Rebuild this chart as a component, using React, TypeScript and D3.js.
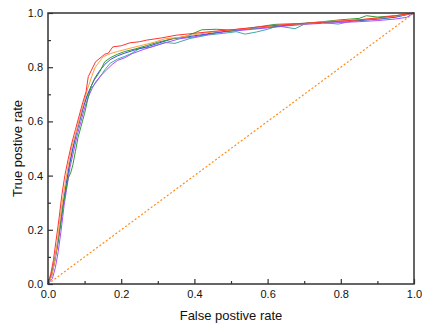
import React, { useRef, useEffect } from "react";
import * as d3 from "d3";

// ROC curves, [false positive rate, true positive rate]
const redCurve: [number, number][] = [
  [0, 0], [0.008, 0.04], [0.015, 0.09], [0.022, 0.16], [0.03, 0.24], [0.038, 0.33], [0.046, 0.4],
  [0.055, 0.46], [0.065, 0.52], [0.075, 0.57], [0.085, 0.62], [0.095, 0.67], [0.104, 0.71],
  [0.11, 0.765], [0.13, 0.82], [0.155, 0.848], [0.165, 0.852], [0.177, 0.875], [0.2, 0.879],
  [0.224, 0.89], [0.25, 0.894], [0.27, 0.9], [0.31, 0.908], [0.35, 0.918], [0.4, 0.925],
  [0.45, 0.932], [0.5, 0.938], [0.55, 0.945], [0.6, 0.952], [0.65, 0.957], [0.7, 0.962],
  [0.75, 0.966], [0.8, 0.97], [0.85, 0.975], [0.9, 0.982], [0.95, 0.99], [1, 1],
];
const orangeCurve: [number, number][] = [
  [0, 0], [0.01, 0.03], [0.018, 0.08], [0.025, 0.15], [0.032, 0.23], [0.04, 0.31], [0.048, 0.38],
  [0.057, 0.45], [0.066, 0.51], [0.077, 0.56], [0.088, 0.62], [0.098, 0.67], [0.108, 0.72],
  [0.118, 0.76], [0.128, 0.797], [0.14, 0.82], [0.151, 0.839], [0.17, 0.85], [0.19, 0.858],
  [0.21, 0.865], [0.23, 0.872], [0.26, 0.882], [0.29, 0.892], [0.32, 0.905], [0.36, 0.91],
  [0.4, 0.92], [0.44, 0.928], [0.48, 0.935], [0.52, 0.94], [0.56, 0.945], [0.6, 0.95],
  [0.65, 0.958], [0.7, 0.96], [0.75, 0.967], [0.8, 0.972], [0.85, 0.975], [0.9, 0.98],
  [0.95, 0.988], [1, 1],
];
const greenCurve: [number, number][] = [
  [0, 0], [0.008, 0.03], [0.016, 0.07], [0.024, 0.13], [0.032, 0.2], [0.04, 0.28], [0.048, 0.34],
  [0.055, 0.39], [0.062, 0.41], [0.068, 0.44], [0.075, 0.49], [0.082, 0.54], [0.09, 0.58],
  [0.1, 0.63], [0.11, 0.69], [0.118, 0.73], [0.125, 0.75], [0.14, 0.78], [0.155, 0.82],
  [0.17, 0.835], [0.19, 0.848], [0.21, 0.858], [0.24, 0.868], [0.27, 0.88], [0.3, 0.892],
  [0.34, 0.905], [0.38, 0.915], [0.42, 0.938], [0.46, 0.94], [0.5, 0.937], [0.54, 0.942],
  [0.58, 0.95], [0.62, 0.958], [0.66, 0.96], [0.7, 0.962], [0.75, 0.968], [0.8, 0.975],
  [0.85, 0.98], [0.87, 0.99], [0.9, 0.985], [0.95, 0.99], [1, 1],
];
const blueCurve: [number, number][] = [
  [0, 0], [0.01, 0.03], [0.018, 0.08], [0.026, 0.14], [0.034, 0.22], [0.042, 0.3], [0.05, 0.37],
  [0.058, 0.44], [0.068, 0.5], [0.078, 0.56], [0.088, 0.61], [0.098, 0.66], [0.108, 0.7],
  [0.118, 0.73], [0.128, 0.76], [0.14, 0.785], [0.155, 0.81], [0.17, 0.828], [0.19, 0.842],
  [0.21, 0.852], [0.24, 0.865], [0.27, 0.875], [0.3, 0.888], [0.34, 0.905], [0.38, 0.912],
  [0.42, 0.92], [0.46, 0.928], [0.5, 0.935], [0.55, 0.942], [0.6, 0.948], [0.65, 0.955],
  [0.7, 0.96], [0.75, 0.965], [0.8, 0.97], [0.85, 0.972], [0.9, 0.978], [0.95, 0.985], [1, 1],
];
const purpleCurve: [number, number][] = [
  [0, 0], [0.012, 0.02], [0.02, 0.06], [0.028, 0.12], [0.036, 0.2], [0.044, 0.29], [0.052, 0.36],
  [0.06, 0.43], [0.07, 0.49], [0.08, 0.55], [0.09, 0.6], [0.1, 0.65], [0.11, 0.69], [0.12, 0.72],
  [0.13, 0.745], [0.145, 0.77], [0.16, 0.79], [0.175, 0.81], [0.19, 0.825], [0.21, 0.835],
  [0.23, 0.85], [0.26, 0.865], [0.29, 0.878], [0.32, 0.89], [0.36, 0.905], [0.4, 0.912],
  [0.44, 0.922], [0.48, 0.93], [0.52, 0.935], [0.56, 0.94], [0.6, 0.945], [0.65, 0.952],
  [0.7, 0.958], [0.75, 0.962], [0.8, 0.965], [0.85, 0.968], [0.9, 0.972], [0.95, 0.978],
  [0.98, 0.984], [1, 1],
];
const tealCurve: [number, number][] = [
  [0, 0], [0.01, 0.04], [0.018, 0.09], [0.026, 0.15], [0.034, 0.22], [0.042, 0.3], [0.05, 0.37],
  [0.058, 0.43], [0.066, 0.49], [0.076, 0.55], [0.086, 0.6], [0.096, 0.65], [0.106, 0.69],
  [0.116, 0.72], [0.126, 0.735], [0.14, 0.76], [0.155, 0.79], [0.17, 0.815], [0.19, 0.83],
  [0.21, 0.84], [0.23, 0.852], [0.251, 0.87], [0.279, 0.873], [0.32, 0.891], [0.347, 0.888],
  [0.388, 0.906], [0.438, 0.919], [0.479, 0.925], [0.515, 0.931], [0.538, 0.922], [0.57, 0.93],
  [0.6, 0.94], [0.628, 0.952], [0.675, 0.942], [0.707, 0.963], [0.75, 0.965], [0.793, 0.959],
  [0.83, 0.97], [0.87, 0.975], [0.91, 0.978], [0.95, 0.985], [1, 1],
];
const chanceLine: [number, number][] = [[0, 0], [1, 1]];

const series = [
  { data: tealCurve, color: "#3fa9a9" },
  { data: purpleCurve, color: "#a64dff" },
  { data: blueCurve, color: "#3355cc" },
  { data: greenCurve, color: "#339933" },
  { data: orangeCurve, color: "#ffa040" },
  { data: redCurve, color: "#ff3333" },
];

const majorTicks = [0, 0.2, 0.4, 0.6, 0.8, 1.0];
const minorTicks = [0.1, 0.3, 0.5, 0.7, 0.9];

const App = () => {
  const svgRef = useRef(null);
  const W = 422;
  const H = 323;
  const left = 48, right = 414, top = 13, bottom = 284;

  useEffect(() => {
    const svg = d3.select(svgRef.current);
    svg.selectAll("*").remove();

    const x = d3.scaleLinear().domain([0, 1]).range([left, right]);
    const y = d3.scaleLinear().domain([0, 1]).range([bottom, top]);

    const line = d3.line<[number, number]>()
      .x(d => x(d[0]))
      .y(d => y(d[1]));

    svg.append("path")
      .datum(chanceLine)
      .attr("d", line)
      .attr("fill", "none")
      .attr("stroke", "#ff8c1a")
      .attr("stroke-width", 1.2)
      .attr("stroke-dasharray", "2,2");

    series.forEach(s => {
      svg.append("path")
        .datum(s.data)
        .attr("d", line)
        .attr("fill", "none")
        .attr("stroke", s.color)
        .attr("stroke-width", 1)
        .attr("stroke-linejoin", "round");
    });

    // frame
    svg.append("rect")
      .attr("x", left)
      .attr("y", top)
      .attr("width", right - left)
      .attr("height", bottom - top)
      .attr("fill", "none")
      .attr("stroke", "#333")
      .attr("stroke-width", 1.5);

    // inward ticks
    const xAxis = d3.axisBottom(x).tickValues(majorTicks).tickSize(-5).tickFormat(d3.format(".1f"));
    const xMinor = d3.axisBottom(x).tickValues(minorTicks).tickSize(-3).tickFormat(() => "");
    const yAxis = d3.axisLeft(y).tickValues(majorTicks).tickSize(-5).tickFormat(d3.format(".1f"));
    const yMinor = d3.axisLeft(y).tickValues(minorTicks).tickSize(-3).tickFormat(() => "");

    const styleAxis = (g: any) => {
      g.select(".domain").remove();
      g.selectAll("line").attr("stroke", "#333").attr("stroke-width", 1.2);
      g.selectAll("text")
        .attr("fill", "#111")
        .style("font-family", "'Liberation Sans', Arial, sans-serif")
        .style("font-size", "11px");
    };

    svg.append("g").attr("transform", `translate(0,${bottom})`).call(xAxis).call(styleAxis)
      .selectAll("text").attr("dy", "0.71em").attr("y", 6);
    svg.append("g").attr("transform", `translate(0,${bottom})`).call(xMinor).call(styleAxis);
    svg.append("g").attr("transform", `translate(${left},0)`).call(yAxis).call(styleAxis)
      .selectAll("text").attr("x", -5);
    svg.append("g").attr("transform", `translate(${left},0)`).call(yMinor).call(styleAxis);

    svg.append("text")
      .attr("x", (left + right) / 2)
      .attr("y", 320)
      .attr("text-anchor", "middle")
      .style("font-family", "'Liberation Sans', Arial, sans-serif")
      .style("font-size", "13px")
      .attr("fill", "#111")
      .text("False postive rate");

    svg.append("text")
      .attr("transform", `translate(22,${(top + bottom) / 2}) rotate(-90)`)
      .attr("text-anchor", "middle")
      .style("font-family", "'Liberation Sans', Arial, sans-serif")
      .style("font-size", "13px")
      .attr("fill", "#111")
      .text("True postive rate");
  }, []);

  return (
    <svg
      ref={svgRef}
      width={W}
      height={H}
      style={{ position: "absolute", left: 0, top: 0, background: "#fff" }}
    />
  );
};

export default App;
